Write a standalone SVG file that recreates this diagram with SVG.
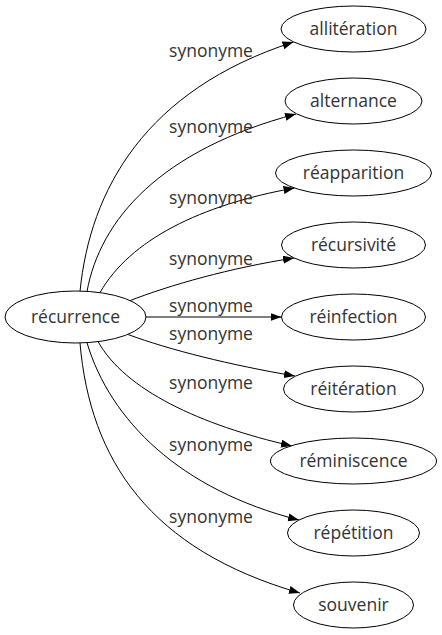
<svg xmlns="http://www.w3.org/2000/svg" width="442" height="635" viewBox="0 0 442 635">
<style>
  text { font-family: "Open Sans", "Noto Sans", "DejaVu Sans", sans-serif; font-size: 17.5px; fill: #333; text-anchor: middle; }
  .node ellipse { fill: #fff; stroke: #000; stroke-width: 1; }
  .edges path { fill: none; stroke: #000; stroke-width: 1; marker-end: url(#arrow); }
</style>
<defs>
  <marker id="arrow" markerUnits="userSpaceOnUse" markerWidth="12" markerHeight="9" refX="11" refY="4" orient="auto">
    <path d="M0,0 L11,4 L0,8 z" fill="#000"/>
  </marker>
</defs>
<rect width="442" height="635" fill="#fff"/>
<g class="edges" id="edges">
  <path d="M80,291.5 C90,190 145,90 293.5,42"/>
  <path d="M87,291.5 C100,220 160,150 296,114"/>
  <path d="M100,292.6 C130,240 200,205 294.5,188"/>
  <path d="M129,301 C170,285 230,268 294,258"/>
  <path d="M146,317 L281.5,317"/>
  <path d="M128,334.5 C170,350 230,365 295,376"/>
  <path d="M98,341.5 C125,390 200,425 292,446"/>
  <path d="M87,342.7 C110,420 180,490 299,520"/>
  <path d="M80,343 C90,460 150,550 300,593"/>
  <g id="edge-labels">
    <text x="211" y="57">synonyme</text>
    <text x="211" y="132.5">synonyme</text>
    <text x="211" y="203.5">synonyme</text>
    <text x="211" y="265">synonyme</text>
    <text x="211" y="312">synonyme</text>
    <text x="211" y="340">synonyme</text>
    <text x="211" y="388.5">synonyme</text>
    <text x="211" y="451">synonyme</text>
    <text x="211" y="522.5">synonyme</text>
  </g>
</g>
<g class="node" id="node-recurrence"><ellipse cx="75.5" cy="317" rx="70.5" ry="26"/><text x="75.5" y="323">récurrence</text></g>
<g class="node" id="node-alliteration"><ellipse cx="353.5" cy="29" rx="72.5" ry="23"/><text x="353.5" y="35">allitération</text></g>
<g class="node" id="node-alternance"><ellipse cx="353.5" cy="101" rx="68.5" ry="23"/><text x="353.5" y="107">alternance</text></g>
<g class="node" id="node-reapparition"><ellipse cx="353.5" cy="173" rx="78" ry="23"/><text x="353.5" y="179">réapparition</text></g>
<g class="node" id="node-recursivite"><ellipse cx="353.5" cy="245" rx="72" ry="23"/><text x="353.5" y="251">récursivité</text></g>
<g class="node" id="node-reinfection"><ellipse cx="353.5" cy="317" rx="72" ry="23"/><text x="353.5" y="323">réinfection</text></g>
<g class="node" id="node-reiteration"><ellipse cx="353.5" cy="389" rx="70" ry="23"/><text x="353.5" y="395">réitération</text></g>
<g class="node" id="node-reminiscence"><ellipse cx="353.5" cy="461" rx="83" ry="23"/><text x="353.5" y="467">réminiscence</text></g>
<g class="node" id="node-repetition"><ellipse cx="353.5" cy="533" rx="66" ry="23"/><text x="353.5" y="539">répétition</text></g>
<g class="node" id="node-souvenir"><ellipse cx="353.5" cy="605" rx="60" ry="23"/><text x="353.5" y="611">souvenir</text></g>
</svg>
